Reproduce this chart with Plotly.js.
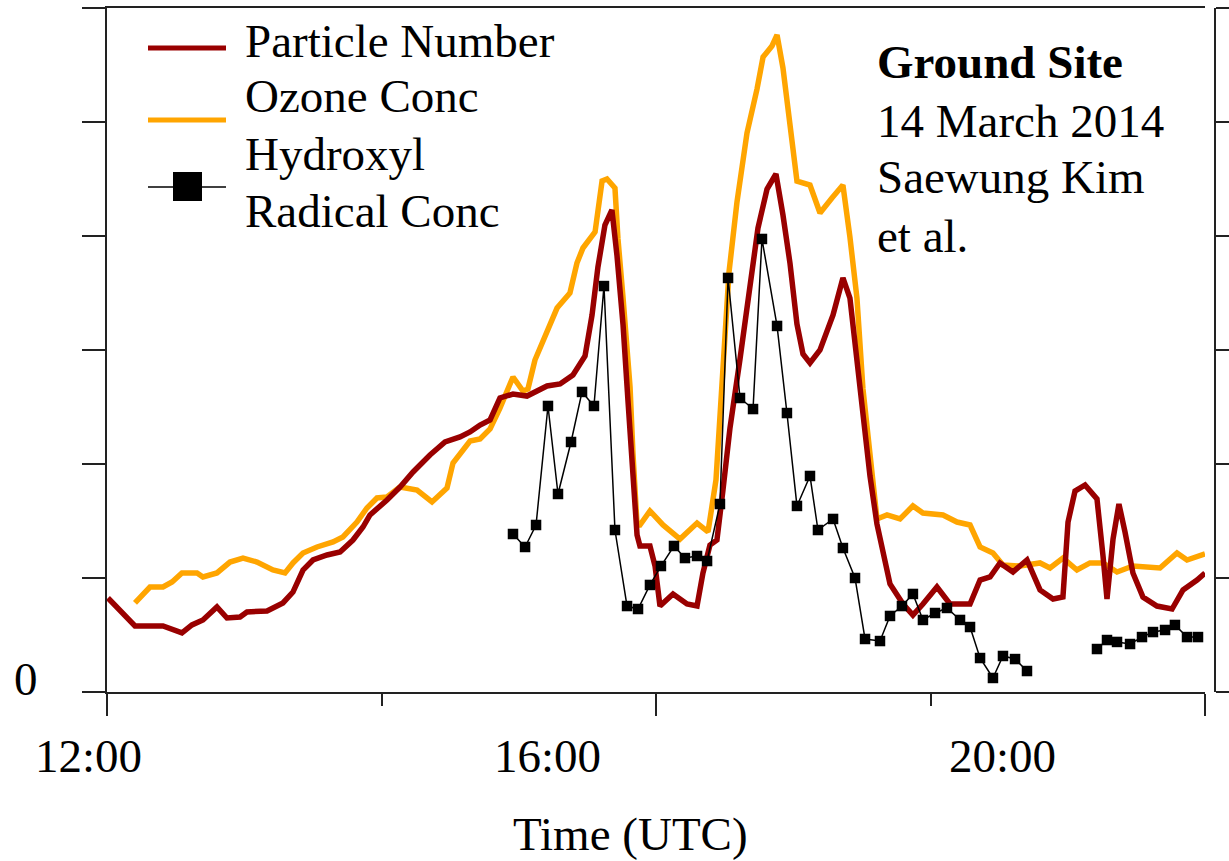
<!DOCTYPE html>
<html>
<head>
<meta charset="utf-8">
<script src="https://cdn.plot.ly/plotly-3.0.1.min.js"></script>
<style>
  html, body { margin: 0; padding: 0; background: #fff; }
  #chart { width: 1229px; height: 861px; }
</style>
</head>
<body>
<div id="chart"></div>
<script>
// Time of day in decimal hours (UTC), values in relative units (0–6 scale)
const pnTime = [12.007,12.073,12.204,12.408,12.546,12.619,12.699,12.801,12.874,12.969,
  13.020,13.166,13.282,13.355,13.428,13.501,13.603,13.698,13.792,13.865,
  13.916,14.040,14.135,14.230,14.353,14.463,14.572,14.645,14.718,14.791,
  14.863,14.958,15.060,15.206,15.301,15.395,15.483,15.534,15.577,15.628,
  15.679,15.716,15.760,15.796,15.832,15.862,15.883,15.956,15.993,16.029,
  16.124,16.226,16.299,16.342,16.393,16.444,16.488,16.539,16.612,16.685,
  16.743,16.809,16.874,16.925,16.976,17.027,17.071,17.122,17.195,17.290,
  17.362,17.413,17.464,17.508,17.559,17.610,17.705,17.800,17.872,17.945,
  18.047,18.142,18.288,18.361,18.434,18.506,18.601,18.703,18.798,18.893,
  18.965,19.002,19.053,19.126,19.213,19.257,19.286,19.330,19.373,19.417,
  19.475,19.548,19.650,19.760,19.840,19.942,20.000];
const pnValue = [0.825,0.746,0.579,0.579,0.518,0.588,0.632,0.746,0.649,0.658,
  0.702,0.711,0.781,0.877,1.070,1.158,1.202,1.228,1.333,1.447,
  1.553,1.684,1.798,1.930,2.079,2.193,2.237,2.281,2.342,2.386,
  2.579,2.614,2.596,2.684,2.702,2.781,2.947,3.307,3.728,4.096,
  4.228,3.825,3.219,2.553,1.947,1.377,1.281,1.281,1.105,0.754,
  0.860,0.772,0.754,1.044,1.289,1.333,1.772,2.316,2.921,3.535,
  4.070,4.412,4.544,4.184,3.763,3.228,2.965,2.886,3.000,3.307,
  3.632,3.456,2.921,2.465,1.895,1.474,0.947,0.772,0.675,0.772,
  0.921,0.772,0.772,0.982,1.009,1.132,1.053,1.158,0.895,0.816,
  0.833,1.491,1.763,1.816,1.693,1.193,0.816,1.342,1.649,1.404,
  1.044,0.833,0.754,0.728,0.895,0.982,1.044];

const o3Time = [12.204,12.313,12.408,12.474,12.546,12.656,12.699,12.801,12.896,12.991,
  13.093,13.209,13.297,13.355,13.428,13.530,13.647,13.719,13.821,13.894,
  13.967,14.040,14.135,14.259,14.368,14.477,14.521,14.587,14.645,14.718,
  14.791,14.863,14.958,15.031,15.067,15.118,15.206,15.279,15.373,15.424,
  15.468,15.556,15.607,15.643,15.701,15.723,15.760,15.811,15.832,15.862,
  15.883,15.956,16.051,16.175,16.299,16.379,16.437,16.481,16.532,16.590,
  16.663,16.736,16.780,16.845,16.882,16.925,16.976,17.027,17.122,17.195,
  17.282,17.362,17.413,17.464,17.508,17.559,17.610,17.683,17.778,17.872,
  17.945,18.091,18.193,18.288,18.361,18.455,18.528,18.652,18.798,18.871,
  18.965,19.067,19.162,19.257,19.359,19.475,19.672,19.796,19.869,20.000];
const o3Value = [0.781,0.921,0.921,0.965,1.044,1.044,1.009,1.044,1.140,1.175,
  1.140,1.070,1.044,1.132,1.219,1.272,1.316,1.360,1.491,1.614,
  1.702,1.711,1.798,1.772,1.667,1.789,2.009,2.105,2.202,2.219,
  2.307,2.491,2.763,2.640,2.658,2.912,3.158,3.368,3.500,3.763,
  3.895,4.035,4.482,4.500,4.421,3.974,3.456,2.675,2.096,1.465,
  1.465,1.588,1.465,1.342,1.482,1.404,1.860,2.754,3.684,4.298,
  4.904,5.289,5.570,5.667,5.763,5.474,4.939,4.482,4.447,4.202,
  4.333,4.447,3.991,3.456,2.658,2.088,1.518,1.553,1.518,1.632,
  1.570,1.553,1.491,1.465,1.272,1.219,1.114,1.105,1.132,1.088,
  1.175,1.070,1.132,1.132,1.053,1.105,1.088,1.219,1.158,1.211];

// null marks the break in the OH record
const ohTime = [14.958,15.046,15.126,15.213,15.286,15.381,15.461,15.548,15.621,15.701,
  15.789,15.869,15.956,16.036,16.131,16.211,16.299,16.372,16.466,16.525,
  16.612,16.707,16.772,16.882,16.954,17.027,17.122,17.180,17.290,17.362,
  17.450,17.523,17.632,17.705,17.792,17.872,17.945,18.033,18.120,18.215,
  18.288,18.361,18.455,18.528,18.616,18.703,18.950,
  19.213,19.286,19.359,19.454,19.541,19.621,19.709,19.781,19.869,19.949];
const ohValue = [1.386,1.272,1.465,2.509,1.737,2.193,2.632,2.509,3.561,1.421,
  0.754,0.728,0.939,1.105,1.281,1.175,1.193,1.149,1.649,3.632,
  2.579,2.482,3.974,3.211,2.447,1.632,1.895,1.421,1.518,1.263,
  1.000,0.465,0.447,0.667,0.754,0.860,0.632,0.693,0.737,0.632,
  0.570,0.298,0.123,0.316,0.289,0.184,null,
  0.377,0.456,0.439,0.421,0.482,0.526,0.544,0.588,0.482,0.482];

const timeLabels = ['12:00', '16:00', '20:00'];
const seriesNames = ['Particle Number', 'Ozone Conc', 'Hydroxyl', 'Radical Conc'];
const siteLines = ['<b>Ground Site</b>', '14 March 2014', 'Saewung Kim', 'et al.'];

const RED = '#990000', ORANGE = '#ffa500', INK = '#222222';
const FONT = 'Liberation Serif, Times New Roman, serif';

const traces = [
  { x: o3Time, y: o3Value, type: 'scatter', mode: 'lines', name: 'Ozone Conc',
    line: { color: ORANGE, width: 5.5 } },
  { x: pnTime, y: pnValue, type: 'scatter', mode: 'lines', name: 'Particle Number',
    line: { color: RED, width: 5.5 } },
  { x: ohTime, y: ohValue, type: 'scatter', mode: 'lines+markers', name: 'Hydroxyl Radical Conc',
    yaxis: 'y2', connectgaps: false,
    line: { color: '#000', width: 1.5 },
    marker: { symbol: 'square', size: 10.5, color: '#000' } }
];

// paper-coordinate helpers for the 1098 x 684 px plotting area
const px = v => (v - 107) / 1098;
const py = v => (692 - v) / 684;

const annotations = [];
const labelPx = [88, 547, 1002];
timeLabels.forEach((t, i) => annotations.push({
  text: t, xref: 'paper', yref: 'paper', x: px(labelPx[i]), y: py(756),
  xanchor: 'center', yanchor: 'middle', showarrow: false
}));
annotations.push({ text: 'Time (UTC)', xref: 'paper', yref: 'paper', x: px(630), y: py(834),
  xanchor: 'center', yanchor: 'middle', showarrow: false });

const legendTextY = [41, 96, 154, 211];
seriesNames.forEach((n, i) => annotations.push({
  text: n, xref: 'paper', yref: 'paper', x: px(243), y: py(legendTextY[i]),
  xanchor: 'left', yanchor: 'middle', showarrow: false
}));
const siteY = [62, 121, 177, 236];
siteLines.forEach((n, i) => annotations.push({
  text: n, xref: 'paper', yref: 'paper', x: px(875), y: py(siteY[i]),
  xanchor: 'left', yanchor: 'middle', showarrow: false
}));

const shapes = [
  { type: 'line', xref: 'paper', yref: 'paper', x0: px(148), x1: px(226), y0: py(48), y1: py(48),
    line: { color: RED, width: 5 } },
  { type: 'line', xref: 'paper', yref: 'paper', x0: px(148), x1: px(226), y0: py(120), y1: py(120),
    line: { color: ORANGE, width: 5 } },
  { type: 'line', xref: 'paper', yref: 'paper', x0: px(148), x1: px(226), y0: py(187), y1: py(187),
    line: { color: '#000', width: 1.5 } },
  { type: 'rect', xref: 'paper', yref: 'paper', x0: px(173), x1: px(202), y0: py(172), y1: py(201),
    fillcolor: '#000', line: { width: 0 } }
];

const axisBase = {
  showgrid: false, zeroline: false, showline: true, linecolor: INK, linewidth: 2,
  ticks: 'outside', tickwidth: 2, tickcolor: INK
};

const layout = {
  width: 1229, height: 861,
  margin: { l: 107, r: 24, t: 8, b: 169, pad: 0 },
  paper_bgcolor: '#fff', plot_bgcolor: '#fff',
  font: { family: FONT, size: 47, color: '#000' },
  showlegend: false,
  xaxis: Object.assign({}, axisBase, {
    range: [12, 20], mirror: true, tickvals: [12, 16, 20], ticklen: 22, showticklabels: false,
    minor: { tickvals: [14, 18], ticks: 'outside', ticklen: 12, tickwidth: 2, tickcolor: INK, showgrid: false }
  }),
  yaxis: Object.assign({}, axisBase, {
    range: [0, 6], tickvals: [0, 1, 2, 3, 4, 5, 6], ticktext: ['0', '', '', '', '', '', ''],
    ticklen: 23, tickfont: { family: FONT, size: 47, color: '#000' },
    ticklabelstandoff: 35, ticklabelshift: -13
  }),
  yaxis2: Object.assign({}, axisBase, {
    range: [0, 6], overlaying: 'y', side: 'right', anchor: 'free', position: 1, shift: 10,
    tickvals: [0, 1, 2, 3, 4, 5, 6], ticklen: 18, showticklabels: false
  }),
  annotations: annotations,
  shapes: shapes
};

Plotly.newPlot('chart', traces, layout, { staticPlot: true, displayModeBar: false });
</script>
</body>
</html>
